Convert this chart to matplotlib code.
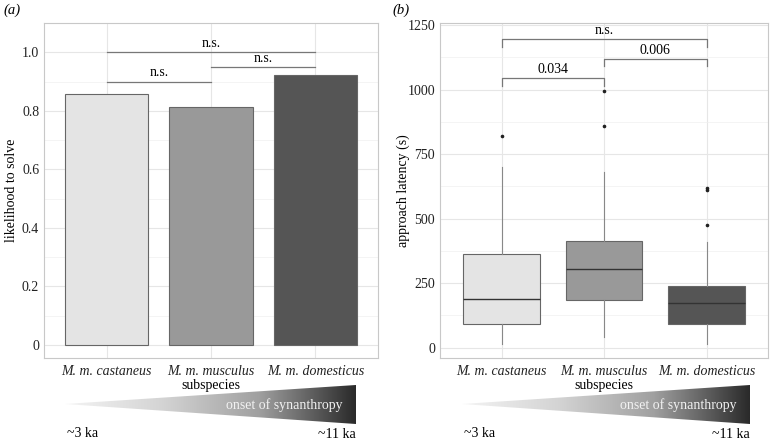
import matplotlib
matplotlib.use("Agg")
import matplotlib.pyplot as plt
import numpy as np
from matplotlib.patches import Polygon

plt.rcParams['font.family'] = ['Liberation Serif', 'DejaVu Serif']

# data
species = ['M. m. castaneus', 'M. m. musculus', 'M. m. domesticus']
solve_likelihood = [0.857, 0.813, 0.921]
bar_colors = ['#e4e4e4', '#999999', '#555555']

# boxplot stats: whisker low, q1, median, q3, whisker high
whislo = [15, 40, 15]
q1 = [90, 185, 92]
med = [190, 305, 175]
q3 = [362, 415, 238]
whishi = [700, 680, 410]
outliers = [[820], [860, 995], [475, 610, 620]]

# significance brackets: (i, j, label, height)
sig_a = [(0, 1, 'n.s.', 0.90), (1, 2, 'n.s.', 0.95), (0, 2, 'n.s.', 1.00)]
sig_b = [(0, 1, '0.034', 1045), (1, 2, '0.006', 1120), (0, 2, 'n.s.', 1195)]

FS = 10
W, H = 777, 442
fig = plt.figure(figsize=(W / 100, H / 100), dpi=100)


def px_axes(x0, y0, x1, y1):
    return fig.add_axes([x0 / W, 1 - y1 / H, (x1 - x0) / W, (y1 - y0) / H])


def style(ax):
    ax.set_facecolor('white')
    for s in ax.spines.values():
        s.set_color('#c8c8c8')
        s.set_linewidth(0.8)
    ax.grid(True, which='major', color='#e6e6e6', linewidth=0.8)
    ax.grid(True, which='minor', axis='y', color='#f0f0f0', linewidth=0.5)
    ax.set_axisbelow(True)
    ax.tick_params(axis='both', which='both', length=0, colors='#222222', labelsize=FS)
    ax.tick_params(axis='x', pad=5)
    ax.set_xticks(range(3))
    ax.set_xticklabels(species, style='italic', fontsize=FS)
    ax.set_xlim(-0.6, 2.6)
    ax.set_xlabel('subspecies', fontsize=FS, labelpad=1)


# panel a
ax1 = px_axes(44, 23, 378, 358)
style(ax1)
ax1.bar(range(3), solve_likelihood, width=0.8, color=bar_colors,
        edgecolor='#666666', linewidth=0.8, zorder=2)
ax1.set_ylim(-0.045, 1.1)
ax1.set_yticks([0, 0.2, 0.4, 0.6, 0.8, 1.0])
ax1.set_yticklabels(['0', '0.2', '0.4', '0.6', '0.8', '1.0'])
ax1.set_yticks([0.1, 0.3, 0.5, 0.7, 0.9], minor=True)
ax1.set_ylabel('likelihood to solve', fontsize=FS, labelpad=3)
for i, j, lab, y in sig_a:
    ax1.plot([i, j], [y, y], color='#777777', linewidth=0.9, zorder=3)
    ax1.text((i + j) / 2, y + 0.008, lab, ha='center', va='bottom', fontsize=FS)

# panel b
ax2 = px_axes(440, 23, 768, 358)
style(ax2)
stats = []
for k in range(3):
    stats.append(dict(whislo=whislo[k], q1=q1[k], med=med[k], q3=q3[k],
                      whishi=whishi[k], fliers=outliers[k]))
bp = ax2.bxp(stats, positions=range(3), widths=0.75, patch_artist=True,
             showcaps=False,
             boxprops=dict(edgecolor='#666666', linewidth=0.8),
             medianprops=dict(color='#333333', linewidth=1.0),
             whiskerprops=dict(color='#888888', linewidth=0.8),
             flierprops=dict(marker='o', markersize=1.6, markerfacecolor='#222222',
                             markeredgecolor='#222222'))
for patch, c in zip(bp['boxes'], bar_colors):
    patch.set_facecolor(c)
    patch.set_zorder(2)
ax2.set_xticks(range(3))
ax2.set_xticklabels(species, style='italic', fontsize=FS)
ax2.set_xlim(-0.6, 2.6)
ax2.set_ylim(-40, 1258)
ax2.set_yticks([0, 250, 500, 750, 1000, 1250])
ax2.set_yticks([125, 375, 625, 875, 1125], minor=True)
ax2.set_ylabel('approach latency (s)', fontsize=FS, labelpad=-2)
for i, j, lab, y in sig_b:
    ax2.plot([i, i, j, j], [y - 30, y, y, y - 30], color='#777777', linewidth=0.9, zorder=3)
    ax2.text((i + j) / 2, y + 8, lab, ha='center', va='bottom', fontsize=FS)

# panel labels
fig.text(3 / W, 1 - 10 / H, '(a)', style='italic', fontsize=FS + 0.5, va='center')
fig.text(392 / W, 1 - 10 / H, '(b)', style='italic', fontsize=FS + 0.5, va='center')

# gradient triangles (synanthropy timeline)
over = fig.add_axes([0, 0, 1, 1])
over.set_xlim(0, W)
over.set_ylim(H, 0)
over.axis('off')
grad = np.linspace(0, 1, 256)[None, :]
cmap = matplotlib.colors.LinearSegmentedColormap.from_list(
    'g', ['#f4f4f4', '#d4d4d4', '#a0a0a0', '#2a2a2a'])
for x0, x1 in [(65, 356), (462, 750)]:
    tri = Polygon([[x0, 404], [x1, 385], [x1, 424]], closed=True,
                  facecolor='none', edgecolor='none')
    over.add_patch(tri)
    im = over.imshow(grad, cmap=cmap, extent=[x0, x1, 424, 385], aspect='auto',
                     interpolation='bilinear')
    im.set_clip_path(tri)
    over.text(x1 - 72, 405, 'onset of synanthropy', color='#f2f2f2',
              ha='center', va='center', fontsize=FS)
    over.text(x0 + 2, 440, '~3 ka', ha='left', va='bottom', fontsize=FS)
    over.text(x1, 441, '~11 ka', ha='right', va='bottom', fontsize=FS)

fig.savefig('out.png', dpi=100, facecolor='white')
